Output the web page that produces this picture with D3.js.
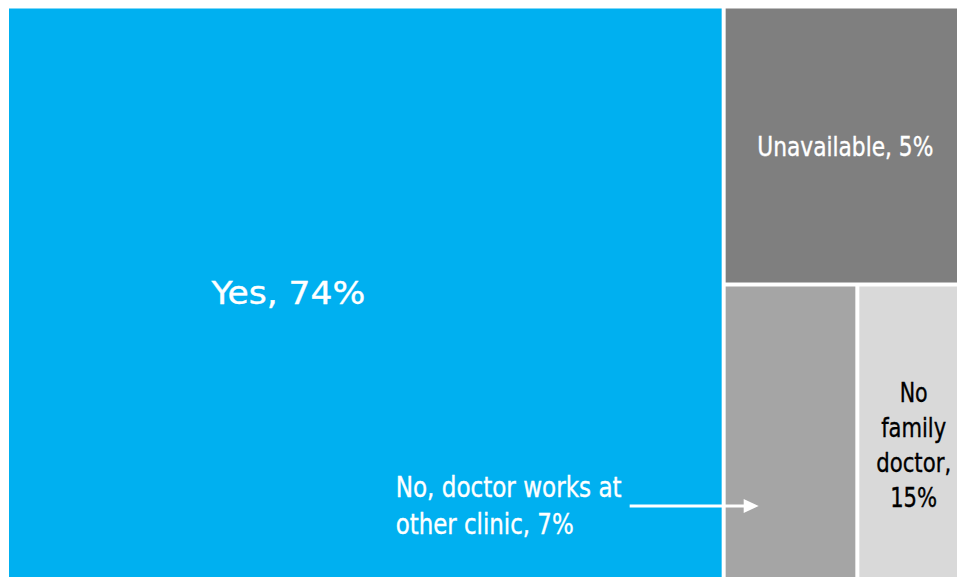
<!DOCTYPE html>
<html>
<head>
<meta charset="utf-8">
<script src="https://cdn.jsdelivr.net/npm/d3@7"></script>
<style>
  html, body { margin: 0; padding: 0; background: #ffffff; }
  svg { display: block; }
  text { font-family: "DejaVu Sans Condensed", "DejaVu Sans", sans-serif; }
</style>
</head>
<body>
<svg id="chart" width="957" height="577"></svg>
<script>
// Survey answers shown as a treemap
const categories = ["Yes", "Unavailable", "No, doctor works at other clinic", "No family doctor"];
const shares = [74, 5, 7, 15];            // percentages printed in the labels
const tileSizes = [74, 11.8, 7.1, 5.4];   // relative tile areas
const colors = ["#00b0f0", "#7f7f7f", "#a5a5a5", "#d9d9d9"];

const W = 957, H = 577;
const margin = { left: 9, top: 8.5, right: 0, bottom: 0 };

const svg = d3.select("#chart");

// Nested layout: Yes | (Unavailable / (other clinic | no family doctor))
const leaves = categories.map((c, i) => ({ name: c, share: shares[i], size: tileSizes[i], color: colors[i], idx: i }));
const treeData = {
  name: "root",
  children: [
    leaves[0],
    { name: "rest", children: [
      leaves[1],
      { name: "lower", children: [leaves[2], leaves[3]] }
    ]}
  ]
};

const root = d3.hierarchy(treeData).sum(d => d.size || 0);
d3.treemap()
  .tile(d3.treemapSliceDice)
  .size([W - margin.left - margin.right, H - margin.top - margin.bottom])
  .paddingInner(4)
  .round(false)(root);

const g = svg.append("g").attr("transform", `translate(${margin.left},${margin.top})`);

const nodes = root.leaves();
g.selectAll("rect.tile")
  .data(nodes)
  .join("rect")
  .attr("class", "tile")
  .attr("x", d => d.x0)
  .attr("y", d => d.y0)
  .attr("width", d => d.x1 - d.x0)
  .attr("height", d => d.y1 - d.y0)
  .attr("fill", d => d.data.color);

const byIdx = i => nodes.find(n => n.data.idx === i);

// one line of label text, squeezed or widened horizontally to a set width
function label(x, y, str, opts) {
  const anchor = opts.anchor || "middle";
  const t = g.append("text")
    .attr("text-anchor", anchor)
    .attr("fill", opts.fill)
    .attr("stroke", opts.fill)
    .attr("stroke-width", 0.35)
    .attr("font-size", opts.size)
    .text(str);
  const natural = t.node().getComputedTextLength();
  const sx = opts.width / natural;
  t.attr("transform", `translate(${x},${y}) scale(${sx},1)`);
  return t;
}

// Yes
const yes = byIdx(0);
label(yes.x0 + (yes.x1 - yes.x0) * 0.392, (yes.y0 + yes.y1) / 2 + 11.5,
  `${yes.data.name}, ${yes.data.share}%`, { fill: "#ffffff", size: 32.5, width: 154 });

// Unavailable
const un = byIdx(1);
label((un.x0 + un.x1) / 2 + 4, (un.y0 + un.y1) / 2 + 10,
  `${un.data.name}, ${un.data.share}%`, { fill: "#ffffff", size: 26.5, width: 176 });

// No family doctor (stacked lines)
const nf = byIdx(3);
const nfLines = ["No", "family", "doctor,", `${nf.data.share}%`];
const nfWidths = [28, 65, 75, 47];
nfLines.forEach((s, i) => {
  label((nf.x0 + nf.x1) / 2 + 5.5, nf.y0 + 115 + i * 35, s,
    { fill: "#000000", size: 26.5, width: nfWidths[i] });
});

// Other clinic: label sits in the Yes tile, arrow points into its own tile
const oc = byIdx(2);
const tipX = oc.x0 + 33, tipY = oc.y1 - 71;
const startX = tipX - 129;
const ocLines = ["No, doctor works at", "other clinic, " + oc.data.share + "%"];
const ocWidths = [226, 178];
ocLines.forEach((s, i) => {
  label(startX - 234, tipY - 9.5 + i * 37.5, s,
    { fill: "#ffffff", size: 27.5, width: ocWidths[i], anchor: "start" });
});

g.append("line")
  .attr("x1", startX).attr("y1", tipY)
  .attr("x2", tipX - 12).attr("y2", tipY)
  .attr("stroke", "#ffffff")
  .attr("stroke-width", 3);
g.append("path")
  .attr("d", `M${tipX},${tipY} L${tipX - 15},${tipY - 7} L${tipX - 15},${tipY + 7} Z`)
  .attr("fill", "#ffffff");
</script>
</body>
</html>
